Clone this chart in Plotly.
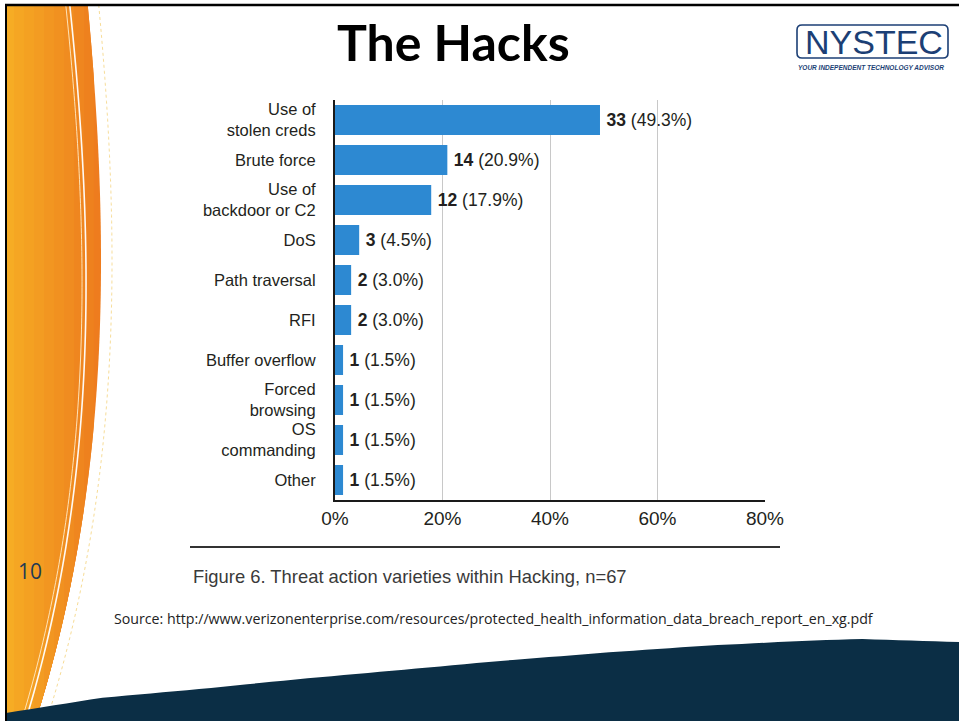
import numpy as np
import plotly.graph_objects as go

# Threat action varieties within Hacking, n=67
categories = ["Use of<br>stolen creds", "Brute force", "Use of<br>backdoor or C2", "DoS",
              "Path traversal", "RFI", "Buffer overflow", "Forced<br>browsing",
              "OS<br>commanding", "Other"]
counts = [33, 14, 12, 3, 2, 2, 1, 1, 1, 1]
percents = [49.3, 20.9, 17.9, 4.5, 3.0, 3.0, 1.5, 1.5, 1.5, 1.5]
x_ticks = [0, 20, 40, 60, 80]
x_tick_labels = [f"{v}%" for v in x_ticks]

W, H = 959, 721
L, R, T, B = 335, 765, 100, 500  # plot area in page pixels


def px(x):
    return (x - L) / (R - L)


def py(y):
    return (B - y) / (B - T)


def svg_path(pts, close=True):
    s = "M " + " L ".join(f"{px(x):.5f},{py(y):.5f}" for x, y in pts)
    return s + (" Z" if close else "")


shapes = []

# --- orange swoosh on the left edge (horizontal gradient in bands) ---
edge_y = [0, 100, 200, 300, 400, 500, 550, 600, 660, 721]
edge_x = [87, 96, 100, 100, 96, 86, 77, 68, 52, 36]
coef = np.polyfit(edge_y, edge_x, 3)
yy = np.linspace(5, 721, 120)
edge = np.polyval(coef, yy)

c_dark = np.array([238, 124, 30])
c_light = np.array([246, 172, 36])
bounds = np.linspace(104, 14, 10)
for i, xb in enumerate(bounds):
    t = i / (len(bounds) - 1)
    r, g, b = (c_dark + (c_light - c_dark) * t).astype(int)
    xr = np.minimum(xb, edge)
    pts = [(7, 5)] + list(zip(xr, yy)) + [(7, 721)]
    shapes.append(dict(type="path", xref="paper", yref="paper", layer="below",
                       path=svg_path(pts), fillcolor=f"rgb({r},{g},{b})",
                       line=dict(width=0)))

# thin highlight curves inside and just outside the swoosh
off = 18 - 8 * (yy / 721)
for d, col, w in [(off, "rgba(255,255,255,0.95)", 1.6), (off + 4, "rgba(255,236,200,0.9)", 1.0)]:
    shapes.append(dict(type="path", xref="paper", yref="paper", layer="below",
                       path=svg_path(list(zip(edge - d, yy)), close=False),
                       line=dict(color=col, width=w)))
shapes.append(dict(type="path", xref="paper", yref="paper", layer="below",
                   path=svg_path(list(zip(edge + 11, yy)), close=False),
                   line=dict(color="#F7DC96", width=1, dash="dot")))

# --- dark navy band along the bottom ---
navy_x = [6, 100, 200, 300, 400, 500, 600, 700, 800, 860, 959]
navy_y = [713, 698, 689, 679, 670, 661, 653, 646, 641, 639, 642]
xx = np.linspace(6, 959, 80)
top = np.interp(xx, navy_x, navy_y)
pts = list(zip(xx, top)) + [(959, 721), (6, 721)]
shapes.append(dict(type="path", xref="paper", yref="paper", layer="below",
                   path=svg_path(pts), fillcolor="#0B2E45", line=dict(width=0)))

# --- slide frame ---
shapes.append(dict(type="line", xref="paper", yref="paper", layer="below",
                   x0=px(5), x1=px(959), y0=py(5), y1=py(5),
                   line=dict(color="black", width=2.5)))
shapes.append(dict(type="line", xref="paper", yref="paper", layer="below",
                   x0=px(6), x1=px(6), y0=py(4), y1=py(721),
                   line=dict(color="black", width=2)))

# --- rule above the figure caption ---
shapes.append(dict(type="line", xref="paper", yref="paper",
                   x0=px(190), x1=px(780), y0=py(547), y1=py(547),
                   line=dict(color="#333333", width=2)))

# --- logo frame ---
x0, x1, y0, y1, rr = 797, 948, 25, 58, 5
logo = (f"M {px(x0 + rr)},{py(y0)} L {px(x1 - rr)},{py(y0)} "
        f"Q {px(x1)},{py(y0)} {px(x1)},{py(y0 + rr)} L {px(x1)},{py(y1 - rr)} "
        f"Q {px(x1)},{py(y1)} {px(x1 - rr)},{py(y1)} L {px(x0 + rr)},{py(y1)} "
        f"Q {px(x0)},{py(y1)} {px(x0)},{py(y1 - rr)} L {px(x0)},{py(y0 + rr)} "
        f"Q {px(x0)},{py(y0)} {px(x0 + rr)},{py(y0)} Z")
shapes.append(dict(type="path", xref="paper", yref="paper", path=logo,
                   line=dict(color="#1C3F75", width=1.6), fillcolor="white"))

annotations = [
    dict(text="<b>The Hacks</b>", x=px(453), y=py(42), xref="paper", yref="paper",
         showarrow=False, xanchor="center", yanchor="middle",
         font=dict(family="Lato", size=50, color="black")),
    dict(text="NYSTEC", x=px(874), y=py(42), xref="paper", yref="paper",
         showarrow=False, xanchor="center", yanchor="middle",
         font=dict(family="Liberation Sans", size=34, color="#1C3F75")),
    dict(text="<b><i>YOUR INDEPENDENT TECHNOLOGY ADVISOR</i></b>", x=px(871), y=py(67),
         xref="paper", yref="paper", showarrow=False, xanchor="center", yanchor="middle",
         font=dict(family="Liberation Sans", size=6.5, color="#1C3F75")),
    dict(text="10", x=px(30), y=py(571), xref="paper", yref="paper",
         showarrow=False, xanchor="center", yanchor="middle",
         font=dict(family="Open Sans", size=21, color="#1F3A55")),
    dict(text="Figure 6. Threat action varieties within Hacking, n=67", x=px(191), y=py(576),
         xref="paper", yref="paper", showarrow=False, xanchor="left", yanchor="middle",
         font=dict(family="Liberation Sans", size=18.4, color="#3A3A3A")),
    dict(text="Source: http://www.verizonenterprise.com/resources/protected_health_information_data_breach_report_en_xg.pdf",
         x=px(112), y=py(618), xref="paper", yref="paper", showarrow=False,
         xanchor="left", yanchor="middle",
         font=dict(family="Open Sans", size=14.2, color="#222222")),
]

# value labels: bold count followed by the share, separated from the bar by a thin space
bar_text = [f"\u2009<b>{c}</b> ({p:.1f}%)" for c, p in zip(counts, percents)]

fig = go.Figure(go.Bar(
    x=percents, y=categories, orientation="h",
    marker=dict(color="#2D89D2", line=dict(width=0)),
    width=0.75,
    text=bar_text, textposition="outside", constraintext="none", cliponaxis=False,
    textfont=dict(family="Liberation Sans", size=17.5, color="#231F20"),
    hoverinfo="skip",
))

fig.update_layout(
    width=W, height=H,
    margin=dict(l=L, r=W - R, t=T, b=H - B, autoexpand=False),
    paper_bgcolor="white", plot_bgcolor="rgba(0,0,0,0)",
    showlegend=False,
    shapes=shapes, annotations=annotations,
    font=dict(family="Liberation Sans", color="#231F20"),
    xaxis=dict(range=[0, 80], tickvals=x_ticks, ticktext=x_tick_labels,
               showgrid=True, gridcolor="#C8C8C8", gridwidth=1, zeroline=False,
               showline=True, linecolor="#1A1A1A", linewidth=2,
               ticks="", tickfont=dict(size=19, color="#231F20"), fixedrange=True),
    yaxis=dict(type="category", categoryorder="array", categoryarray=categories,
               range=[9.5, -0.5], showgrid=False, zeroline=False,
               showline=True, linecolor="#1A1A1A", linewidth=2,
               ticks="", ticklabelstandoff=14,
               tickfont=dict(size=16.5, color="#231F20"), fixedrange=True),
)

fig.write_html("out.html")
